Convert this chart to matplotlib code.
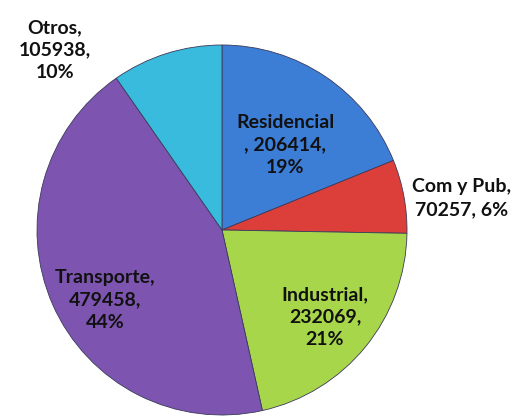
import matplotlib.pyplot as plt

# datos del consumo por sector
sectores = ["Residencial", "Com y Pub", "Industrial", "Transporte", "Otros"]
valores = [206414, 70257, 232069, 479458, 105938]
porcentajes = ["19%", "6%", "21%", "44%", "10%"]
colores = ["#3c7dd6", "#dc3f3a", "#a8d64a", "#7d55b0", "#38bbdd"]

# textos de las etiquetas (saltos de línea como en el original)
etiquetas = [
    "Residencial\n, {v},\n{p}",
    "Com y Pub,\n{v}, {p}",
    "Industrial,\n{v},\n{p}",
    "Transporte,\n{v},\n{p}",
    "Otros,\n{v},\n{p}",
]
# posición de cada etiqueta en píxeles (x, y desde arriba)
pos_etiquetas = [(285, 145), (462, 198), (325, 317), (105, 300), (55, 50)]

W, H = 520, 416
fig = plt.figure(figsize=(W / 100, H / 100), dpi=100)
ax = fig.add_axes([0, 0, 1, 1])

ax.pie(valores, colors=colores, startangle=90, counterclock=False,
       center=(222, H - 230), radius=185, frame=True,
       wedgeprops=dict(edgecolor="#3a3a5a", linewidth=0.6))
ax.set_xlim(0, W)
ax.set_ylim(0, H)
ax.set_aspect("equal")
ax.axis("off")

for txt, v, p, (x, y) in zip(etiquetas, valores, porcentajes, pos_etiquetas):
    ax.text(x, H - y, txt.format(v=v, p=p), ha="center", va="center",
            fontsize=14, fontweight="bold", family="Lato",
            color="#111111", linespacing=1.4)

fig.savefig("out.png", dpi=100)
